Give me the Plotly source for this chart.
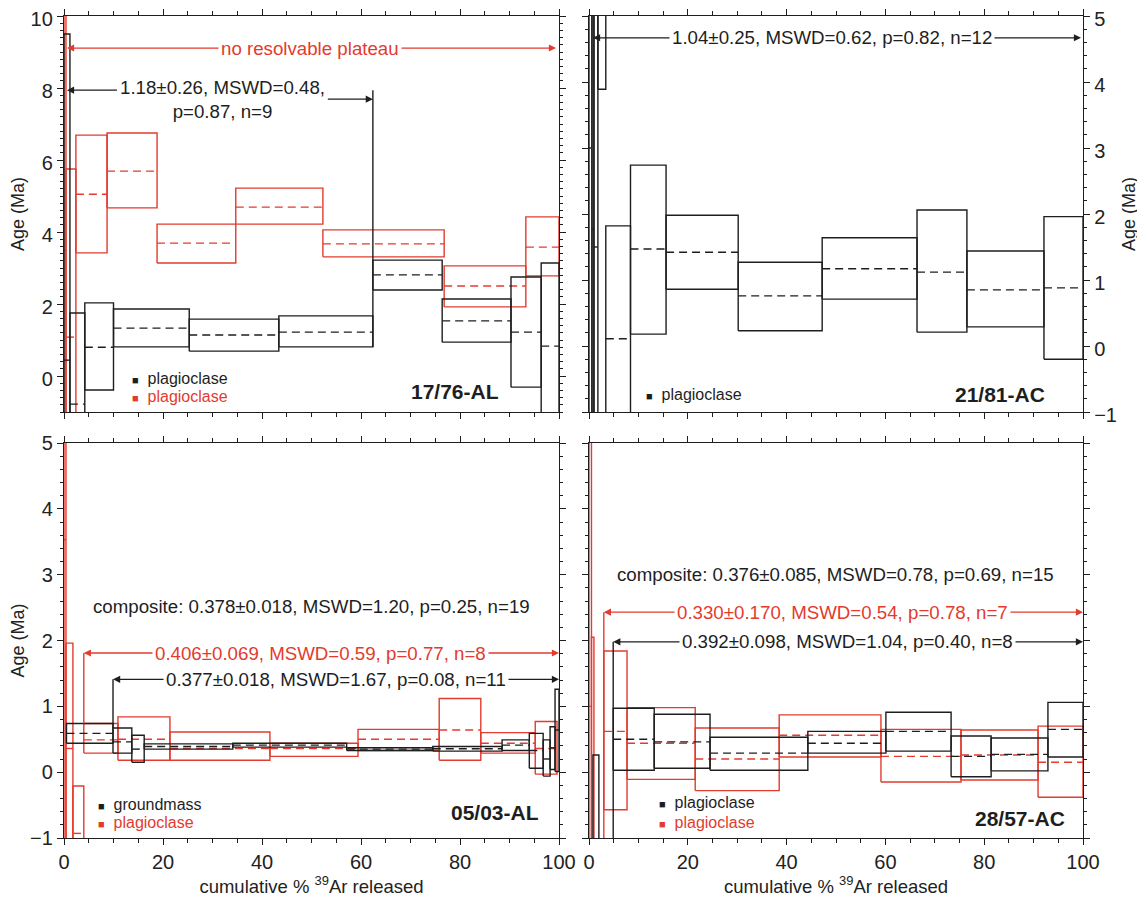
import plotly.graph_objects as go

BLACK = "#1e1e1e"
RED = "#e33b2e"
FONT = "Liberation Sans, Arial, sans-serif"

# ---------------- Panel A: 17/76-AL (top left) ----------------
A_blk_x0 = [0.0, 1.2, 4.2, 10.0, 25.3, 43.4, 62.4, 76.4, 90.3, 96.4]
A_blk_x1 = [1.2, 4.2, 10.0, 25.3, 43.4, 62.4, 76.4, 90.3, 96.4, 100.0]
A_blk_lo = [-3.0, -3.3, -0.39, 0.81, 0.69, 0.81, 2.39, 0.94, -0.31, -2.5]
A_blk_hi = [9.5, 1.75, 2.03, 1.86, 1.58, 1.67, 3.22, 2.14, 2.75, 3.14]
A_blk_age = [0.44, -0.78, 0.80, 1.33, 1.14, 1.22, 2.81, 1.53, 1.22, 0.83]

A_red_x0 = [0.0, 0.4, 2.4, 8.7, 18.8, 34.7, 52.3, 76.8, 93.3]
A_red_x1 = [0.4, 2.4, 8.7, 18.8, 34.7, 52.3, 76.8, 93.3, 100.0]
A_red_lo = [-5.0, -3.6, 3.42, 4.67, 3.14, 4.22, 3.31, 1.92, 2.78]
A_red_hi = [12.0, 5.75, 6.69, 6.75, 4.22, 5.22, 4.06, 3.06, 4.42]
A_red_age = [3.5, 1.08, 5.05, 5.69, 3.69, 4.69, 3.67, 2.50, 3.58]

# ---------------- Panel B: 21/81-AC (top right) ----------------
B_blk_x0 = [0.0, 0.6, 1.0, 1.8, 3.4, 8.4, 15.6, 30.2, 47.2, 66.4, 76.5, 92.1]
B_blk_x1 = [0.6, 1.0, 1.8, 3.4, 8.4, 15.6, 30.2, 47.2, 66.4, 76.5, 92.1, 100.0]
B_blk_lo = [-8.0, -5.0, -4.0, 3.89, -2.0, 0.18, 0.86, 0.23, 0.71, 0.21, 0.29, -0.20]
B_blk_hi = [15.0, 9.0, 8.0, 8.0, 1.82, 2.74, 1.98, 1.27, 1.64, 2.06, 1.44, 1.96]
B_blk_age = [3.0, 1.77, 1.5, 6.0, 0.11, 1.47, 1.42, 0.76, 1.17, 1.12, 0.85, 0.88]

# ---------------- Panel C: 05/03-AL (bottom left) ----------------
C_blk_x0 = [0.5, 9.9, 13.7, 16.2, 34.1, 57.1, 74.5, 88.5, 94.0, 96.8, 98.2, 99.2]
C_blk_x1 = [9.9, 13.7, 16.2, 34.1, 57.1, 74.5, 88.5, 94.0, 96.8, 98.2, 99.2, 100.0]
C_blk_lo = [0.44, 0.29, 0.15, 0.35, 0.38, 0.33, 0.32, 0.33, 0.06, -0.06, 0.04, 0.01]
C_blk_hi = [0.74, 0.67, 0.56, 0.43, 0.44, 0.37, 0.39, 0.49, 0.59, 0.49, 0.69, 1.26]
C_blk_age = [0.59, 0.46, 0.35, 0.39, 0.41, 0.35, 0.355, 0.41, 0.33, 0.20, 0.37, 0.64]

C_red_x0 = [0.0, 0.4, 1.8, 4.0, 10.9, 21.4, 41.6, 59.4, 75.8, 84.2, 95.2]
C_red_x1 = [0.4, 1.8, 4.0, 10.9, 21.4, 41.6, 59.4, 75.8, 84.2, 95.2, 99.6]
C_red_lo = [-6.0, -1.5, -2.0, 0.29, 0.18, 0.18, 0.24, 0.33, 0.18, 0.29, -0.03]
C_red_hi = [8.0, 1.96, -0.21, 0.74, 0.84, 0.61, 0.44, 0.65, 1.12, 0.60, 0.77]
C_red_age = [3.53, 0.36, -0.93, 0.49, 0.50, 0.36, 0.36, 0.50, 0.64, 0.44, 0.36]

# ---------------- Panel D: 28/57-AC (bottom right) ----------------
D_blk_x0 = [0.8, 4.9, 13.2, 24.5, 44.3, 60.1, 73.3, 81.4, 92.9]
D_blk_x1 = [2.0, 13.2, 24.5, 44.3, 60.1, 73.3, 81.4, 92.9, 100.0]
D_blk_lo = [-3.0, 0.03, 0.06, 0.03, 0.29, 0.32, -0.07, 0.02, 0.23]
D_blk_hi = [0.26, 0.97, 0.88, 0.53, 0.62, 0.91, 0.55, 0.52, 1.06]
D_blk_age = [-1.4, 0.50, 0.46, 0.29, 0.44, 0.62, 0.24, 0.27, 0.65]

D_red_x0 = [0.0, 0.5, 3.0, 7.7, 21.5, 38.5, 59.1, 75.3, 90.9]
D_red_x1 = [0.5, 1.0, 7.7, 21.5, 38.5, 59.1, 75.3, 90.9, 100.0]
D_red_lo = [-6.0, -3.0, -0.57, -0.11, -0.28, 0.23, -0.15, -0.12, -0.38]
D_red_hi = [8.0, 2.05, 1.84, 0.98, 0.67, 0.87, 0.65, 0.64, 0.70]
D_red_age = [1.0, -1.2, 0.62, 0.44, 0.20, 0.56, 0.24, 0.26, 0.15]

# plateau brackets: (x, y_top, y_bottom)
A_blk_bracket = (62.4, 7.94, 0.81)
C_red_bracket = (4.0, 1.81, 0.74)
C_blk_bracket = (9.9, 1.41, 0.67)
D_red_bracket = (3.0, 2.43, -1.0)
D_blk_bracket = (4.9, 1.98, -1.0)

# plateau texts
A_blk_text = "1.18±0.26, MSWD=0.48,<br>p=0.87, n=9"
A_red_text = "no resolvable plateau"
B_blk_text = "1.04±0.25, MSWD=0.62, p=0.82, n=12"
C_comp_text = "composite: 0.378±0.018, MSWD=1.20, p=0.25, n=19"
C_red_text = "0.406±0.069, MSWD=0.59, p=0.77, n=8"
C_blk_text = "0.377±0.018, MSWD=1.67, p=0.08, n=11"
D_comp_text = "composite: 0.376±0.085, MSWD=0.78, p=0.69, n=15"
D_red_text = "0.330±0.170, MSWD=0.54, p=0.78, n=7"
D_blk_text = "0.392±0.098, MSWD=1.04, p=0.40, n=8"

sample_names = ["17/76-AL", "21/81-AC", "05/03-AL", "28/57-AC"]

fig = go.Figure()


def add_steps(xa, ya, x0s, x1s, los, his, ages, color):
    bx, by, dx, dy = [], [], [], []
    for x0, x1, lo, hi, a in zip(x0s, x1s, los, his, ages):
        bx += [x0, x1, x1, x0, x0, None]
        by += [lo, lo, hi, hi, lo, None]
        dx += [x0, x1, None]
        dy += [a, a, None]
    fig.add_trace(go.Scatter(x=bx, y=by, mode="lines", xaxis=xa, yaxis=ya,
                             line=dict(color=color, width=1.4), hoverinfo="skip",
                             showlegend=False))
    fig.add_trace(go.Scatter(x=dx, y=dy, mode="lines", xaxis=xa, yaxis=ya,
                             line=dict(color=color, width=1.4, dash="8px,5px"),
                             hoverinfo="skip", showlegend=False))


def add_bracket(xa, ya, br, color):
    fig.add_trace(go.Scatter(x=[br[0], br[0]], y=[br[1], br[2]], mode="lines",
                             xaxis=xa, yaxis=ya, line=dict(color=color, width=1.4),
                             hoverinfo="skip", showlegend=False))


add_steps("x", "y", A_red_x0, A_red_x1, A_red_lo, A_red_hi, A_red_age, RED)
add_steps("x", "y", A_blk_x0, A_blk_x1, A_blk_lo, A_blk_hi, A_blk_age, BLACK)
add_bracket("x", "y", A_blk_bracket, BLACK)

add_steps("x2", "y2", B_blk_x0, B_blk_x1, B_blk_lo, B_blk_hi, B_blk_age, BLACK)

add_steps("x3", "y3", C_red_x0, C_red_x1, C_red_lo, C_red_hi, C_red_age, RED)
add_steps("x3", "y3", C_blk_x0, C_blk_x1, C_blk_lo, C_blk_hi, C_blk_age, BLACK)
add_bracket("x3", "y3", C_red_bracket, RED)
add_bracket("x3", "y3", C_blk_bracket, BLACK)

add_steps("x4", "y4", D_red_x0, D_red_x1, D_red_lo, D_red_hi, D_red_age, RED)
add_steps("x4", "y4", D_blk_x0, D_blk_x1, D_blk_lo, D_blk_hi, D_blk_age, BLACK)
add_bracket("x4", "y4", D_red_bracket, RED)
add_bracket("x4", "y4", D_blk_bracket, BLACK)

ann = []
TXT = 18.7


def arrow(ax_id, tip_x, tip_y, tail_x, tail_y, color):
    xr = "x" if ax_id == 1 else "x%d" % ax_id
    yr = "y" if ax_id == 1 else "y%d" % ax_id
    ann.append(dict(x=tip_x, y=tip_y, ax=tail_x, ay=tail_y, xref=xr, yref=yr,
                    axref=xr, ayref=yr, text="", showarrow=True, arrowhead=2,
                    arrowsize=1.1, arrowwidth=1.3, arrowcolor=color, standoff=0))


def label(ax_id, x, y, text, color, size=TXT, bg=None, xanchor="center"):
    xr = "x" if ax_id == 1 else "x%d" % ax_id
    yr = "y" if ax_id == 1 else "y%d" % ax_id
    d = dict(x=x, y=y, xref=xr, yref=yr, text=text, showarrow=False,
             font=dict(family=FONT, size=size, color=color), xanchor=xanchor,
             yanchor="middle", borderpad=2)
    if bg:
        d["bgcolor"] = bg
    ann.append(d)


# Panel A arrows + texts
arrow(1, 0.6, 9.11, 50, 9.11, RED)
arrow(1, 99.4, 9.11, 50, 9.11, RED)
label(1, 49.7, 9.11, A_red_text, RED, bg="white")
arrow(1, 0.6, 7.94, 11.0, 7.94, BLACK)
arrow(1, 62.4, 7.69, 53.0, 7.69, BLACK)
label(1, 32.0, 7.69, A_blk_text, BLACK)

# Panel B
arrow(2, 0.8, 4.67, 50, 4.67, BLACK)
arrow(2, 99.6, 4.67, 50, 4.67, BLACK)
label(2, 49.2, 4.67, B_blk_text, BLACK, bg="white")

# Panel C
label(3, 49.9, 2.52, C_comp_text, BLACK)
arrow(3, C_red_bracket[0], 1.81, 52, 1.81, RED)
arrow(3, 100, 1.81, 52, 1.81, RED)
label(3, 51.9, 1.81, C_red_text, RED, bg="white")
arrow(3, C_blk_bracket[0], 1.41, 55, 1.41, BLACK)
arrow(3, 100, 1.41, 55, 1.41, BLACK)
label(3, 54.9, 1.41, C_blk_text, BLACK, bg="white")

# Panel D
label(4, 49.8, 3.01, D_comp_text, BLACK)
arrow(4, D_red_bracket[0], 2.43, 51, 2.43, RED)
arrow(4, 100, 2.43, 51, 2.43, RED)
label(4, 51.4, 2.43, D_red_text, RED, bg="white")
arrow(4, D_blk_bracket[0], 1.98, 52, 1.98, BLACK)
arrow(4, 100, 1.98, 52, 1.98, BLACK)
label(4, 52.4, 1.98, D_blk_text, BLACK, bg="white")


# legends
def legtext(name, color):
    return "<span style='color:%s;font-size:11px'>■</span>  %s" % (color, name)


LEG = 16
label(1, 13.2, -0.06, legtext("plagioclase", BLACK), BLACK, LEG, xanchor="left")
label(1, 13.2, -0.56, legtext("plagioclase", RED), RED, LEG, xanchor="left")
label(2, 11.0, -0.74, legtext("plagioclase", BLACK), BLACK, LEG, xanchor="left")
label(3, 6.3, -0.49, legtext("groundmass", BLACK), BLACK, LEG, xanchor="left")
label(3, 6.3, -0.76, legtext("plagioclase", RED), RED, LEG, xanchor="left")
label(4, 13.6, -0.46, legtext("plagioclase", BLACK), BLACK, LEG, xanchor="left")
label(4, 13.6, -0.76, legtext("plagioclase", RED), RED, LEG, xanchor="left")

# sample names
label(1, 79.0, -0.44, "<b>%s</b>" % sample_names[0], BLACK, 21)
label(2, 83.2, -0.74, "<b>%s</b>" % sample_names[1], BLACK, 21)
label(3, 87.1, -0.61, "<b>%s</b>" % sample_names[2], BLACK, 21)
label(4, 87.2, -0.70, "<b>%s</b>" % sample_names[3], BLACK, 21)

W, H = 1145, 901
OFF = 8  # page body margin offset in the browser
xl = [(64 - OFF) / W, (559 - OFF) / W]
xr = [(589 - OFF) / W, (1083 - OFF) / W]
yt = [1 - (412 - OFF) / H, 1 - (16 - OFF) / H]
yb = [1 - (838 - OFF) / H, 1 - (443 - OFF) / H]

xtick_vals = list(range(0, 101, 20))

common_axis = dict(showline=True, linecolor=BLACK, linewidth=1.3, mirror="ticks",
                   ticks="outside", ticklen=6, tickwidth=1.2, tickcolor=BLACK,
                   showgrid=False, zeroline=False, automargin=False,
                   ticklabeloverflow="allow",
                   tickfont=dict(family=FONT, size=20, color="#222"))


def xax(domain, anchor, labels):
    d = dict(common_axis)
    d.update(domain=domain, anchor=anchor, range=[0, 100], tickmode="array",
             tickvals=xtick_vals, showticklabels=labels,
             minor=dict(dtick=5, ticklen=4, ticks="outside", tickcolor=BLACK))
    if labels:
        d["title"] = dict(text="cumulative % <sup>39</sup>Ar released",
                          font=dict(family=FONT, size=18.5, color="#222"), standoff=4)
    return d


def yax(domain, anchor, rng, vals, side, labels, title, shift=0):
    d = dict(common_axis)
    d.update(domain=domain, anchor=anchor, range=rng, tickmode="array",
             tickvals=vals, side=side, showticklabels=labels, ticklabelshift=shift,
             minor=dict(dtick=0.2, ticklen=3, ticks="outside", tickcolor=BLACK))
    if title:
        d["title"] = dict(text="Age (Ma)", font=dict(family=FONT, size=18, color="#222"),
                          standoff=6)
    return d


fig.update_layout(
    width=W, height=H, margin=dict(l=0, r=0, t=0, b=0),
    paper_bgcolor="white", plot_bgcolor="white", showlegend=False,
    font=dict(family=FONT, color="#222"),
    xaxis=xax(xl, "y", False),
    yaxis=yax(yt, "x", [-1, 10], [0, 2, 4, 6, 8, 10], "left", True, True, 3),
    xaxis2=xax(xr, "y2", False),
    yaxis2=yax(yt, "x2", [-1, 5], [-1, 0, 1, 2, 3, 4, 5], "right", True, True, 3),
    xaxis3=xax(xl, "y3", True),
    yaxis3=yax(yb, "x3", [-1, 5], [-1, 0, 1, 2, 3, 4, 5], "left", True, True),
    xaxis4=xax(xr, "y4", True),
    yaxis4=yax(yb, "x4", [-1, 5], [-1, 0, 1, 2, 3, 4, 5], "left", False, False),
    annotations=ann,
)

fig.write_html("out.html")
